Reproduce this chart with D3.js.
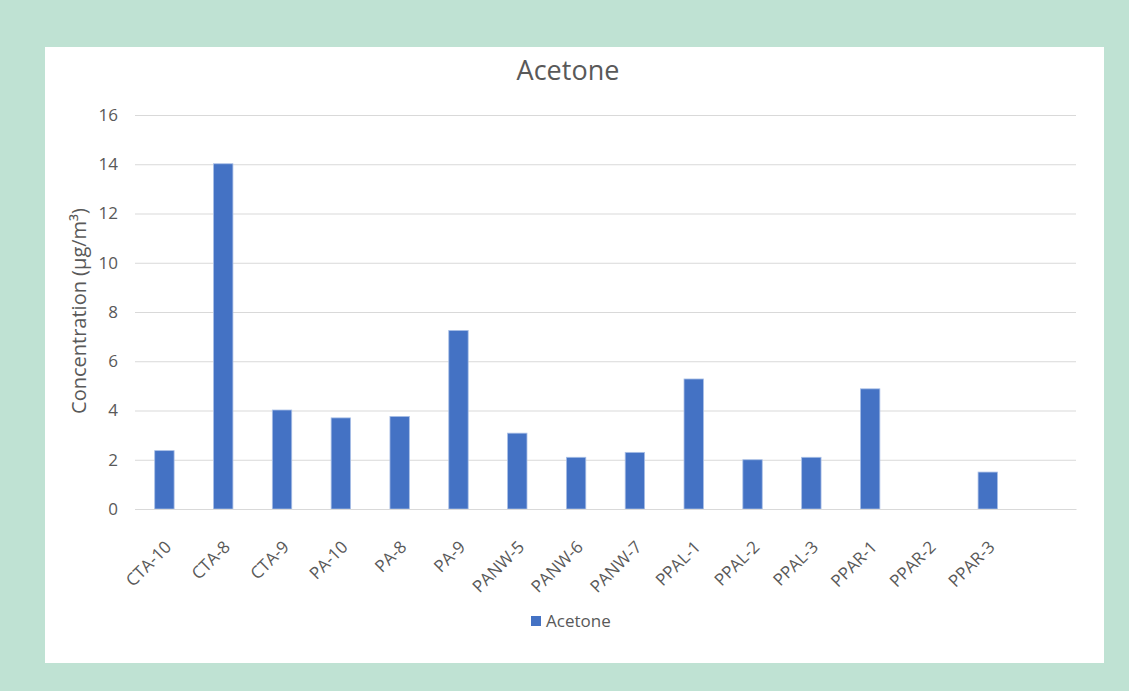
<!DOCTYPE html>
<html>
<head>
<meta charset="utf-8">
<script src="https://cdn.jsdelivr.net/npm/d3@7"></script>
<style>
  html, body { margin: 0; padding: 0; background: #bfe2d3; }
  #chart { position: absolute; left: 0; top: 0; }
</style>
</head>
<body>
<div id="chart"></div>
<script>
// data
const categories = ['CTA-10', 'CTA-8', 'CTA-9', 'PA-10', 'PA-8', 'PA-9', 'PANW-5', 'PANW-6', 'PANW-7',
  'PPAL-1', 'PPAL-2', 'PPAL-3', 'PPAR-1', 'PPAR-2', 'PPAR-3', ''];
const acetone = [2.37, 14.02, 4.02, 3.7, 3.76, 7.25, 3.08, 2.1, 2.3, 5.28, 2.0, 2.1, 4.88, null, 1.5, null];
const yTicks = [0, 2, 4, 6, 8, 10, 12, 14, 16];
const seriesName = 'Acetone';

function makeChart(target) {
  const width = 1129;
  const height = 691;
  const panel = { x: 45, y: 47, w: 1059, h: 616 };
  const margin = { top: 115, left: 135, right: 1129 - 1076, bottom: 691 - 509 };
  const fontFam = '"Open Sans", sans-serif';
  const textCol = '#595959';

  const svg = d3.select(target)
    .append('svg')
    .attr('width', width)
    .attr('height', height);

  // white chart panel
  svg.append('rect')
    .attr('x', panel.x).attr('y', panel.y)
    .attr('width', panel.w).attr('height', panel.h)
    .attr('fill', '#ffffff');

  const data = categories.map((c, i) => ({ name: c, value: acetone[i] }));

  const xScale = d3.scaleBand()
    .domain(data.map((d, i) => i))
    .range([margin.left, width - margin.right])
    .paddingInner(0.67)
    .paddingOuter(0.335);
  const yScale = d3.scaleLinear()
    .domain([0, 16])
    .range([height - margin.bottom, margin.top]);

  // gridlines + y labels
  const yAxis = d3.axisLeft(yScale)
    .tickValues(yTicks)
    .tickSize(-(width - margin.left - margin.right))
    .tickPadding(17)
    .tickFormat(d3.format('d'));
  const gy = svg.append('g')
    .attr('transform', `translate(${margin.left},0)`)
    .call(yAxis);
  gy.select('.domain').remove();
  gy.selectAll('.tick line').attr('stroke', '#d9d9d9').attr('stroke-width', 1);
  gy.selectAll('.tick text')
    .attr('fill', textCol)
    .style('font-family', fontFam)
    .style('font-size', '17px');

  // bars
  svg.selectAll('.bar')
    .data(data.filter((d) => d.value != null))
    .enter()
    .append('rect')
    .attr('class', 'bar')
    .attr('x', (d) => xScale(categories.indexOf(d.name)))
    .attr('y', (d) => yScale(d.value))
    .attr('width', xScale.bandwidth())
    .attr('height', (d) => yScale(0) - yScale(d.value))
    .attr('fill', '#4472c4')
    .attr('stroke', '#a9bfe6')
    .attr('stroke-width', 0.8);

  // x axis
  const xAxis = d3.axisBottom(xScale)
    .tickSize(0)
    .tickFormat((i) => categories[i]);
  const gx = svg.append('g')
    .attr('transform', `translate(0,${yScale(0)})`)
    .call(xAxis);
  gx.select('.domain').attr('stroke', '#d9d9d9');
  gx.selectAll('.tick text')
    .attr('fill', textCol)
    .style('font-family', fontFam)
    .style('font-size', '17px')
    .attr('text-anchor', 'end')
    .attr('x', 0)
    .attr('y', 0)
    .attr('dy', 0)
    .attr('transform', 'translate(8,39) rotate(-45)');

  // title
  svg.append('text')
    .attr('x', 568)
    .attr('y', 80)
    .attr('text-anchor', 'middle')
    .attr('fill', textCol)
    .style('font-family', fontFam)
    .style('font-size', '27px')
    .text(seriesName);

  // y axis title
  svg.append('text')
    .attr('transform', 'translate(86,311) rotate(-90)')
    .attr('text-anchor', 'middle')
    .attr('fill', textCol)
    .style('font-family', fontFam)
    .style('font-size', '20px')
    .text('Concentration (µg/m³)');

  // legend
  const lg = svg.append('g').attr('transform', 'translate(531,616)');
  lg.append('rect').attr('width', 10).attr('height', 10).attr('fill', '#4472c4');
  lg.append('text')
    .attr('x', 15).attr('y', 11)
    .attr('fill', textCol)
    .style('font-family', fontFam)
    .style('font-size', '17px')
    .text(seriesName);
}

window.onload = () => {
  makeChart('#chart');
};
</script>
</body>
</html>
